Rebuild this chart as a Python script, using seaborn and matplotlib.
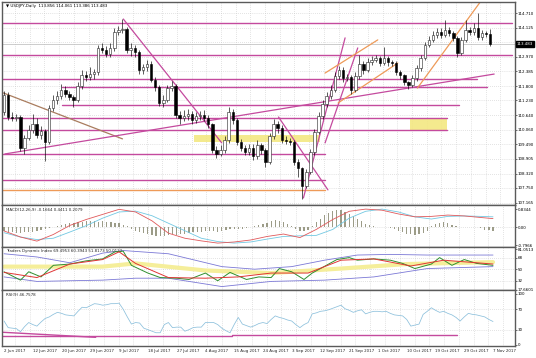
import matplotlib
matplotlib.use("Agg")
import matplotlib.pyplot as plt
import matplotlib.transforms as mtransforms
import numpy as np
import seaborn as sns

sns.set_style("white")
plt.rcParams['font.family'] = ['DejaVu Sans']

# ---------------- price data (daily USDJPY) ----------------
open_ = [110.77, 111.45, 110.57, 110.53, 110.57, 109.34, 109.74, 110.05, 110.29, 109.85,
         110.01, 109.58, 110.93, 111.25, 111.41, 111.65, 111.49, 111.37, 111.25, 111.80,
         112.24, 112.16, 112.28, 112.36, 113.32, 113.24, 113.08, 113.32, 113.95, 114.03,
         114.07, 113.24, 113.32, 113.16, 112.44, 112.56, 112.68, 112.04, 111.76, 111.13,
         111.25, 111.73, 111.80, 110.65, 110.53, 110.61, 110.69, 110.45, 110.61, 110.65,
         110.53, 110.29, 109.26, 109.10, 109.26, 109.66, 110.77, 110.45, 109.58, 109.34,
         109.18, 109.34, 109.02, 109.46, 109.26, 108.78, 109.81, 110.29, 110.13, 109.66,
         109.62, 109.58, 108.78, 108.54, 107.82, 108.38, 109.18, 109.97, 110.61, 111.09,
         111.41, 111.65, 112.20, 112.44, 112.12, 112.16, 111.65, 112.20, 112.68, 112.44,
         112.76, 112.84, 112.92, 112.72, 112.92, 112.76, 112.72, 112.36, 112.24, 111.96,
         111.84, 112.12, 112.52, 112.92, 113.44, 113.64, 113.83, 113.95, 113.83, 114.03,
         113.91, 113.71, 113.12, 113.64, 114.03, 113.95, 114.11, 113.75, 113.91, 113.856]
high = [111.60, 111.55, 110.75, 110.70, 110.65, 109.85, 110.25, 110.70, 110.55, 110.20,
        110.10, 111.05, 111.45, 111.60, 111.90, 111.80, 111.60, 111.45, 111.95, 112.45,
        112.40, 112.55, 112.50, 113.45, 113.50, 113.40, 113.50, 114.10, 114.20, 114.49,
        114.15, 113.50, 113.45, 113.25, 112.70, 112.85, 112.80, 112.15, 111.85, 111.45,
        111.85, 112.00, 111.90, 110.80, 110.85, 110.90, 110.80, 110.75, 110.80, 110.85,
        110.65, 110.35, 109.40, 109.45, 109.80, 110.95, 110.90, 110.55, 109.70, 109.45,
        109.50, 109.50, 109.65, 109.55, 109.35, 109.95, 110.50, 110.40, 110.25, 109.80,
        109.75, 109.65, 108.90, 108.60, 108.50, 109.30, 110.10, 110.75, 111.25, 111.55,
        111.85, 112.35, 112.60, 112.55, 112.30, 112.25, 112.35, 113.04, 112.80, 112.90,
        113.00, 113.05, 113.00, 113.35, 113.00, 112.85, 112.80, 112.45, 112.30, 112.00,
        112.25, 112.65, 113.05, 113.55, 113.80, 114.00, 114.10, 114.10, 114.43, 114.15,
        114.00, 113.80, 113.75, 114.43, 114.15, 114.30, 114.73, 114.05, 114.00, 114.061]
low = [110.65, 110.45, 110.40, 110.42, 109.20, 109.10, 109.65, 109.95, 109.75, 109.70,
       108.80, 109.50, 110.80, 111.10, 111.30, 111.35, 111.25, 110.95, 111.15, 111.70,
       112.00, 112.05, 112.10, 112.25, 113.10, 112.95, 112.95, 113.20, 113.85, 113.90,
       113.10, 113.00, 112.95, 112.30, 112.30, 112.40, 111.95, 111.60, 111.00, 110.95,
       111.15, 111.60, 110.55, 110.30, 110.40, 110.45, 110.30, 110.35, 110.45, 110.40,
       110.15, 109.15, 108.95, 109.00, 109.15, 109.55, 110.30, 109.45, 109.20, 109.05,
       109.05, 108.85, 108.90, 109.10, 108.60, 108.70, 109.70, 109.95, 109.55, 109.50,
       109.45, 108.65, 108.20, 107.32, 107.75, 108.30, 109.05, 109.90, 110.50, 110.95,
       111.30, 111.55, 112.10, 111.95, 112.00, 111.50, 111.55, 112.10, 112.30, 112.35,
       112.65, 112.75, 112.60, 112.65, 112.60, 112.60, 112.25, 112.10, 111.85, 111.70,
       111.75, 112.00, 112.40, 112.85, 113.35, 113.55, 113.70, 113.70, 113.75, 113.80,
       113.60, 112.95, 113.05, 113.55, 113.85, 113.85, 113.65, 113.65, 113.75, 113.386]
close = [111.45, 110.57, 110.53, 110.57, 109.34, 109.74, 110.05, 110.29, 109.85, 110.01,
         109.58, 110.93, 111.25, 111.41, 111.65, 111.49, 111.37, 111.25, 111.80, 112.24,
         112.16, 112.28, 112.36, 113.32, 113.24, 113.08, 113.32, 113.95, 114.03, 114.07,
         113.24, 113.32, 113.16, 112.44, 112.56, 112.68, 112.04, 111.76, 111.13, 111.25,
         111.73, 111.80, 110.65, 110.53, 110.61, 110.69, 110.45, 110.61, 110.65, 110.53,
         110.29, 109.26, 109.10, 109.26, 109.66, 110.77, 110.45, 109.58, 109.34, 109.18,
         109.34, 109.02, 109.46, 109.26, 108.78, 109.81, 110.29, 110.13, 109.66, 109.62,
         109.58, 108.78, 108.54, 107.82, 108.38, 109.18, 109.97, 110.61, 111.09, 111.41,
         111.65, 112.20, 112.44, 112.12, 112.16, 111.65, 112.20, 112.68, 112.44, 112.76,
         112.84, 112.92, 112.72, 112.92, 112.76, 112.72, 112.36, 112.24, 111.96, 111.84,
         112.12, 112.52, 112.92, 113.44, 113.64, 113.83, 113.95, 113.83, 114.03, 113.91,
         113.71, 113.12, 113.64, 114.03, 113.95, 114.11, 113.75, 113.91, 113.856, 113.483]

price_ticks = [114.710, 114.125, 113.540, 112.970, 112.385, 111.800, 111.230, 110.640,
               110.060, 109.490, 108.905, 108.320, 107.750, 107.165]
price_tick_labels = ["114.710", "114.125", "", "112.970", "112.385", "111.800", "111.230",
                     "110.640", "110.060", "109.490", "108.905", "108.320", "107.750", "107.165"]
last_price = 113.483

date_labels = ["2 Jun 2017", "12 Jun 2017", "20 Jun 2017", "29 Jun 2017", "9 Jul 2017",
               "18 Jul 2017", "27 Jul 2017", "4 Aug 2017", "15 Aug 2017", "24 Aug 2017",
               "3 Sep 2017", "12 Sep 2017", "21 Sep 2017", "1 Oct 2017", "10 Oct 2017",
               "19 Oct 2017", "29 Oct 2017", "7 Nov 2017"]
date_bars = [0, 7, 14, 21, 28, 35, 42, 49, 56, 63, 70, 77, 84, 91, 98, 105, 112, 119]

# drawn support/resistance levels: price, start bar, end bar
level_price = [114.31, 113.04, 112.08, 111.76, 111.05, 110.53, 110.05, 109.10, 108.06]
level_start = [-0.5, -0.5, -0.5, 14.1, 14.1, -0.5, -0.5, -0.5, -0.5]
level_end = [124.4, 124.4, 115.8, 118.3, 111.5, 108.5, 108.5, 78.6, 78.6]
orange_level = 107.67
# trend lines: (bar0, price0, bar1, price1)
tan_line = (-0.2, 111.53, 29.0, 109.70)
magenta_trends = [(0.2, 109.10, 120.0, 112.28),
                  (29.2, 114.47, 53.3, 109.54),
                  (67.2, 110.57, 79.3, 107.67),
                  (73.3, 107.35, 83.5, 113.72),
                  (78.6, 109.54, 86.6, 113.32)]
orange_trends = [(78.6, 112.32, 91.5, 113.64),
                 (81.8, 111.13, 96.4, 112.72),
                 (101.2, 111.72, 116.6, 115.15)]
yellow_zones = [(99.3, 108.5, 110.05, 110.53), (46.5, 77.4, 109.59, 109.85)]

# ---------------- MACD ----------------
macd_x = [0, 4, 8, 12, 16, 20, 24, 28, 32, 36, 40, 44, 48, 52, 56, 60, 64, 68, 72, 76,
          80, 84, 88, 92, 96, 100, 104, 108, 112, 116, 119]
macd_red = [-0.16, -0.435, -0.62, -0.32, 0.09, 0.36, 0.59, 0.82, 0.70, 0.30, -0.26, -0.49,
            -0.61, -0.71, -0.66, -0.57, -0.41, -0.30, -0.46, -0.09, 0.36, 0.73, 0.83, 0.78,
            0.61, 0.48, 0.50, 0.56, 0.52, 0.45, 0.40]
macd_blue = [-0.24, -0.435, -0.55, -0.49, -0.21, 0.08, 0.42, 0.70, 0.74, 0.53, 0.19, -0.15,
             -0.49, -0.64, -0.71, -0.66, -0.53, -0.41, -0.38, -0.36, -0.09, 0.42, 0.73, 0.83,
             0.70, 0.48, 0.38, 0.50, 0.52, 0.50, 0.48]
macd_hist = [-0.18, -0.20, -0.22, -0.24, -0.24, -0.22, -0.22, -0.20, -0.17, -0.13,
             -0.09, -0.03, 0.02, 0.07, 0.12, 0.14, 0.18, 0.21, 0.24, 0.26,
             0.28, 0.30, 0.28, 0.26, 0.28, 0.26, 0.24, 0.21, 0.18, 0.12,
             0.06, -0.06, -0.14, -0.21, -0.26, -0.30, -0.35, -0.37, -0.39, -0.38,
             -0.35, -0.32, -0.35, -0.32, -0.29, -0.26, -0.23, -0.21, -0.19, -0.16,
             -0.14, -0.17, -0.21, -0.17, -0.12, -0.06, -0.05, -0.07, -0.06, -0.03,
             0.02, 0.06, 0.09, 0.14, 0.21, 0.28, 0.32, 0.30, 0.23, 0.14,
             0.06, -0.09, -0.14, -0.16, -0.12, 0.06, 0.23, 0.40, 0.55, 0.67,
             0.76, 0.81, 0.78, 0.71, 0.63, 0.52, 0.40, 0.29, 0.17, 0.09,
             0.05, 0.03, 0.02, 0.01, -0.03, -0.08, -0.15, -0.22, -0.28, -0.32,
             -0.33, -0.30, -0.24, -0.15, 0.06, 0.14, 0.20, 0.23, 0.20, 0.12,
             0.05, 0.00, 0.00, 0.00, 0.00, 0.00, -0.02, -0.10, -0.12, -0.14]

# ---------------- Traders Dynamic Index ----------------
tdi_green_x = [0, 4, 6, 9, 12, 16, 20, 24, 27, 29, 31, 35, 38, 42, 45, 49, 52, 55, 59, 62,
               65, 67, 70, 73, 75, 79, 81, 84, 86, 90, 94, 97, 100, 104, 106, 109, 112, 115, 119]
tdi_green = [46, 33, 46, 38, 56, 58, 63, 66, 77, 78, 56, 44, 37, 36, 34, 44, 32, 45, 34, 38,
             37, 51, 46, 34, 44, 58, 65, 68, 64, 66, 64, 59, 51, 58, 68, 56, 65, 59, 56]
tdi_red_x = [0, 8, 16, 24, 28, 32, 40, 49, 57, 65, 74, 82, 90, 99, 107, 119]
tdi_red = [45, 37, 58, 65, 77, 59, 37, 36, 38, 44, 44, 64, 66, 55, 64, 58]
tdi_up_x = [0, 8, 16, 24, 29, 40, 53, 61, 70, 78, 86, 94, 103, 119]
tdi_up = [74, 69, 60, 75, 79, 74, 54, 50, 54, 64, 72, 73, 72, 72]
tdi_lo_x = [0, 8, 24, 32, 40, 53, 65, 78, 90, 103, 119]
tdi_lo = [38, 31, 33, 36, 36, 23, 31, 33, 38, 51, 54]
tdi_mid_x = [0, 24, 32, 49, 65, 82, 98, 119]
tdi_mid = [54, 54, 59, 48, 44, 51, 58, 61]

# ---------------- RSI(9) ----------------
rsi = [47, 34, 33, 32, 26, 36, 44, 40, 37, 45,
       52, 55, 60, 64, 62, 59, 58, 57, 66, 74,
       73, 77, 81, 80, 78, 79, 81, 81, 82, 70,
       55, 41, 44, 43, 33, 30, 27, 24, 24, 40,
       44, 34, 35, 35, 27, 30, 34, 35, 35, 44,
       44, 44, 40, 33, 28, 24, 40, 54, 41, 38,
       35, 38, 42, 44, 42, 50, 57, 54, 52, 49,
       47, 40, 34, 40, 44, 61, 63, 66, 67, 69,
       72, 75, 78, 71, 68, 64, 67, 69, 61, 64,
       66, 66, 65, 66, 62, 59, 58, 57, 50, 37,
       39, 41, 60, 66, 73, 68, 64, 66, 62, 59,
       54, 47, 55, 62, 60, 59, 57, 55, 50, 46]
rsi_lines = [(-0.5, 25.0, 22.3, 15.0), (-0.5, 17.0, 55.5, 17.0), (55.5, 20.0, 110.3, 20.0)]

# ---------------- figure ----------------
W, H = 536, 358
fig = plt.figure(figsize=(W / 100, H / 100), dpi=100)
fig.patch.set_facecolor("white")


def box(x0, y0, x1, y1):
    return [x0 / W, 1 - y1 / H, (x1 - x0) / W, (y1 - y0) / H]


ax = fig.add_axes(box(2, 2, 515, 205))
axm = fig.add_axes(box(2, 205, 515, 247))
axt = fig.add_axes(box(2, 247, 515, 290))
axr = fig.add_axes(box(2, 290, 515, 346))
axes = [ax, axm, axt, axr]

XLIM = (-0.5, 124.35)
grid_x = [2.7 + 3.6 * k for k in range(35)]
GRID = dict(color="#c8c8c8", linestyle=(0, (1, 2)), linewidth=0.5)
FS = 2.9
MAG = "#c44a9e"
ORG = "#ee9a58"

for a in axes:
    a.set_xlim(*XLIM)
    a.set_facecolor("white")
    for s in a.spines.values():
        s.set_color("#5a5a5a")
        s.set_linewidth(1.0)
    a.yaxis.tick_right()
    a.tick_params(axis="y", labelsize=FS, length=1.2, width=0.4, pad=0.8, colors="black")
    a.set_xticks(grid_x, minor=True)
    a.tick_params(axis="x", which="minor", length=0)
    a.grid(which="minor", axis="x", **GRID)
    a.grid(which="major", axis="y", **GRID)
    a.set_xticks(date_bars)
    if a is not axr:
        a.tick_params(axis="x", which="major", length=0, labelbottom=False)

# ---- main price panel ----
ax.set_ylim(107.068, 115.148)
ax.set_yticks(price_ticks, labels=price_tick_labels)

bars = np.arange(len(close))
o = np.array(open_)
c = np.array(close)
up = c >= o
ax.vlines(bars, low, high, color="black", linewidth=0.45, zorder=3)
body_up = np.maximum(c[up] - o[up], 0.025)
body_dn = np.maximum(o[~up] - c[~up], 0.025)
ax.bar(bars[up], body_up, bottom=o[up], width=0.6, color="white",
       edgecolor="#222222", linewidth=0.4, zorder=4)
ax.bar(bars[~up], body_dn, bottom=c[~up], width=0.6, color="black",
       edgecolor="black", linewidth=0.4, zorder=4)

for (b0, b1, p0, p1) in yellow_zones:
    ax.fill_between([b0, b1], p0, p1, color="#f3e77a", alpha=0.85, linewidth=0, zorder=1.5)

for p, s, e in zip(level_price, level_start, level_end):
    ax.plot([s, e], [p, p], color=MAG, linewidth=1.0, zorder=2)
ax.plot([-0.5, 78.6], [orange_level, orange_level], color=ORG, linewidth=1.0, zorder=2)
ax.plot([tan_line[0], tan_line[2]], [tan_line[1], tan_line[3]], color="#a97c5e",
        linewidth=0.9, zorder=2)
for (b0, p0, b1, p1) in magenta_trends:
    ax.plot([b0, b1], [p0, p1], color=MAG, linewidth=0.9, zorder=2)
for (b0, p0, b1, p1) in orange_trends:
    ax.plot([b0, b1], [p0, p1], color=ORG, linewidth=0.9, zorder=2)
ax.axhline(last_price, color="#b8b8b8", linewidth=0.5, zorder=1)

tr = mtransforms.blended_transform_factory(ax.transAxes, ax.transData)
ax.text(1.004, last_price, "113.483", transform=tr, fontsize=FS, color="white",
        ha="left", va="center", zorder=10, clip_on=False,
        bbox=dict(facecolor="black", edgecolor="black", pad=0.6))
ax.text(0.008, 0.988, "\u25bc USDJPY,Daily  113.856 114.061 113.386 113.483",
        transform=ax.transAxes, fontsize=FS, ha="left", va="top", color="black")

# ---- MACD panel ----
axm.set_ylim(-0.887, 1.016)
axm.set_yticks([0.8344, 0.0, -0.7966], labels=["0.8344", "0.00", "-0.7966"])
axm.grid(False, axis="y")
axm.axhline(0, **GRID)
axm.bar(bars, macd_hist, width=0.3, color="#9c9c88", linewidth=0, zorder=2)
sns.lineplot(x=macd_x, y=macd_blue, ax=axm, color="#72c8e2", linewidth=0.6, legend=False, zorder=3)
sns.lineplot(x=macd_x, y=macd_red, ax=axm, color="#e0585a", linewidth=0.6, legend=False, zorder=4)
axm.set_xlim(*XLIM)
axm.text(0.008, 0.93, "MACD(12,26,9) -0.1664 0.4411 0.2079", transform=axm.transAxes,
         fontsize=FS, ha="left", va="top")

# ---- TDI panel ----
axt.set_ylim(17.66, 84.5)
axt.set_yticks([81.0513, 68, 50, 32, 17.6601], labels=["81.0513", "68", "50", "32", "17.6601"])
axt.grid(False, axis="y")
for lv in (68, 50, 32):
    axt.axhline(lv, **GRID)
sns.lineplot(x=tdi_mid_x, y=tdi_mid, ax=axt, color="#f5ee9a", linewidth=3.0, legend=False, zorder=2)
sns.lineplot(x=tdi_up_x, y=tdi_up, ax=axt, color="#7b78d6", linewidth=0.6, legend=False, zorder=3)
sns.lineplot(x=tdi_lo_x, y=tdi_lo, ax=axt, color="#7b78d6", linewidth=0.6, legend=False, zorder=3)
sns.lineplot(x=tdi_green_x, y=tdi_green, ax=axt, color="#2f8f2f", linewidth=0.7, legend=False, zorder=4)
sns.lineplot(x=tdi_red_x, y=tdi_red, ax=axt, color="#e03535", linewidth=0.7, legend=False, zorder=5)
axt.set_xlim(*XLIM)
axt.text(0.008, 0.95, "Traders Dynamic Index 69.4953 60.3943 51.8173 50.0122",
         transform=axt.transAxes, fontsize=FS, ha="left", va="top")

# ---- RSI panel ----
axr.set_ylim(-2, 107.8)
axr.set_yticks([100, 70, 30, 0], labels=["100", "70", "30", "0"])
axr.grid(False, axis="y")
axr.axhline(70, **GRID)
axr.axhline(30, **GRID)
sns.lineplot(x=bars, y=rsi, ax=axr, color="#8cc0dc", linewidth=0.55, legend=False, zorder=3)
for (b0, v0, b1, v1) in rsi_lines:
    axr.plot([b0, b1], [v0, v1], color=MAG, linewidth=1.0, zorder=2)
axr.set_xlim(*XLIM)
axr.set_xticks(date_bars, labels=date_labels, ha="left")
axr.tick_params(axis="x", which="major", labelsize=FS, length=1.5, width=0.4, pad=1)
axr.text(0.008, 0.95, "RSI(9) 46.7578", transform=axr.transAxes, fontsize=FS,
         ha="left", va="top")

for a in axes:
    a.set_xlabel("")
    a.set_ylabel("")

fig.savefig("out.png", dpi=100)
